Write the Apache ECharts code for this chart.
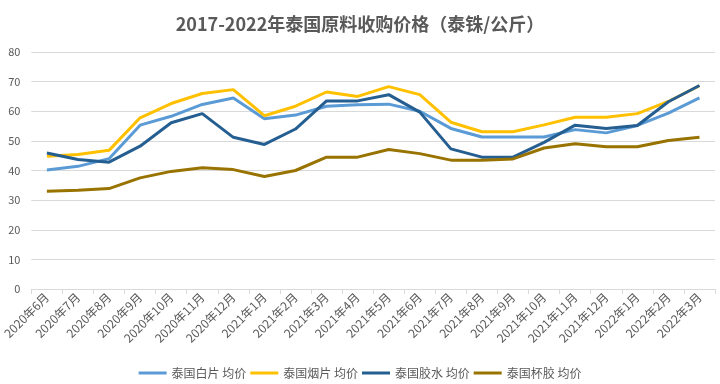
<!DOCTYPE html>
<html><head><meta charset="utf-8">
<script src="https://cdn.jsdelivr.net/npm/echarts@6/dist/echarts.min.js"></script>
<style>html,body{margin:0;padding:0;background:#fff}#c{width:720px;height:384px}</style>
</head><body><div id="c"></div>
<script>
const categories = ['2020年6月','2020年7月','2020年8月','2020年9月','2020年10月','2020年11月','2020年12月','2021年1月','2021年2月','2021年3月','2021年4月','2021年5月','2021年6月','2021年7月','2021年8月','2021年9月','2021年10月','2021年11月','2021年12月','2022年1月','2022年2月','2022年3月'];
const baipian = [40.2,41.4,44.0,55.3,58.3,62.3,64.5,57.5,58.7,61.7,62.2,62.4,60.0,54.2,51.3,51.3,51.3,53.8,52.7,55.2,59.4,64.5];
const yanpian = [44.8,45.4,46.8,57.8,62.6,66.0,67.3,58.5,61.7,66.5,65.0,68.3,65.6,56.3,53.1,53.1,55.4,58.0,58.0,59.2,63.3,68.6];
const jiaoshui = [45.9,43.7,42.8,48.2,56.1,59.2,51.2,48.8,54.0,63.5,63.5,65.6,59.7,47.3,44.5,44.5,49.5,55.3,54.2,55.2,63.2,68.7];
const beijiao = [33.0,33.3,33.9,37.5,39.7,40.9,40.3,38.0,40.0,44.5,44.5,47.1,45.7,43.5,43.5,43.9,47.6,49.0,48.0,48.0,50.1,51.2];
const seriesNames = ['泰国白片 均价','泰国烟片 均价','泰国胶水 均价','泰国杯胶 均价'];
const colors = ['#5B9BD5','#FFC000','#255E91','#997300'];
const yTicks = {min:0, max:80, interval:10};

const chart = echarts.init(document.getElementById('c'));
const dataList = [baipian, yanpian, jiaoshui, beijiao];
chart.setOption({
  animation:false,
  color: colors,
  title:{text:'2017-2022年泰国原料收购价格（泰铢/公斤）', left:'center', top:10,
    textStyle:{fontFamily:'Noto Sans CJK SC', fontSize:18, fontWeight:'bold', color:'#595959'}},
  grid:{left:31, right:5, top:52, bottom:95, containLabel:false},
  legend:{top:362, left:'center', itemWidth:28, itemHeight:3, itemGap:4,
    icon:'rect',
    textStyle:{fontFamily:'Noto Sans CJK SC', fontSize:12, color:'#595959'},
    data:seriesNames},
  xAxis:{type:'category', data:categories, boundaryGap:true,
    axisLine:{lineStyle:{color:'#D9D9D9'}},
    axisTick:{show:true, alignWithLabel:false, lineStyle:{color:'#D9D9D9'}},
    axisLabel:{rotate:45, interval:0, fontFamily:'Noto Sans CJK SC', fontSize:12, color:'#595959', margin:6}},
  yAxis:{type:'value', min:yTicks.min, max:yTicks.max, interval:yTicks.interval,
    axisLine:{show:false}, axisTick:{show:false},
    splitLine:{lineStyle:{color:'#D9D9D9'}},
    axisLabel:{fontFamily:'Noto Sans CJK SC', fontSize:11, color:'#595959', margin:11}},
  series: dataList.map((d,i)=>({name:seriesNames[i], type:'line', data:d, symbol:'none',
    lineStyle:{width:3, color:colors[i]}, itemStyle:{color:colors[i]}}))
});
</script></body></html>
